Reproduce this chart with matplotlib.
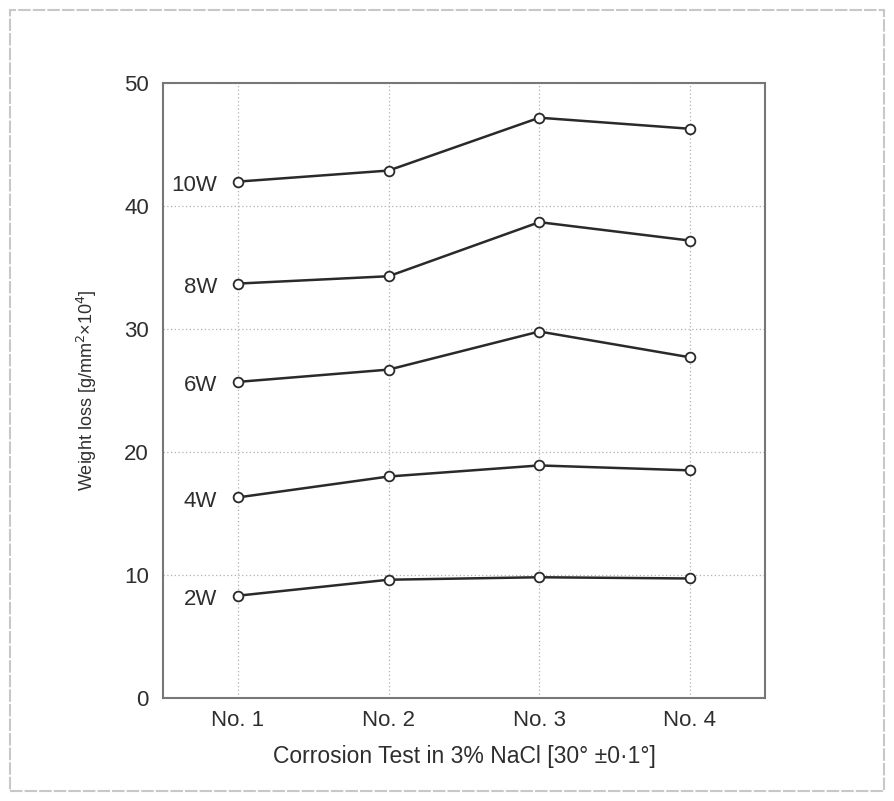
import matplotlib
matplotlib.use("Agg")
import matplotlib.pyplot as plt
from matplotlib.patches import Rectangle

plt.rcParams['font.family'] = ['Liberation Sans', 'DejaVu Sans']

# Data
tests = ["No. 1", "No. 2", "No. 3", "No. 4"]
series_names = ["10W", "8W", "6W", "4W", "2W"]
w10 = [42.0, 42.9, 47.2, 46.3]
w8 = [33.7, 34.3, 38.7, 37.2]
w6 = [25.7, 26.7, 29.8, 27.7]
w4 = [16.3, 18.0, 18.9, 18.5]
w2 = [8.3, 9.6, 9.8, 9.7]
series = [w10, w8, w6, w4, w2]

x = [1, 2, 3, 4]

fig = plt.figure(figsize=(8.94, 8.01), dpi=100)
ax = fig.add_axes([0.182, 0.129, 0.674, 0.767])

# Light frame round the whole picture
fig.patches.append(Rectangle((0.011, 0.012), 0.978, 0.976, transform=fig.transFigure,
                             fill=False, edgecolor="#c8c8c8", linewidth=1.5, linestyle=(0, (6, 1))))

for name, vals in zip(series_names, series):
    ax.plot(x, vals, color="#2a2a2a", linewidth=1.8, marker="o", markersize=7,
            markerfacecolor="white", markeredgecolor="#2a2a2a", markeredgewidth=1.3, zorder=3)
    ax.text(0.86, vals[0] - 0.3, name, ha="right", va="center", fontsize=16, color="#2e2e2e")

ax.set_xlim(0.5, 4.5)
ax.set_ylim(0, 50)
ax.set_xticks(x)
ax.set_xticklabels(tests)
ax.set_yticks([0, 10, 20, 30, 40, 50])
ax.tick_params(axis="both", labelsize=16, colors="#2e2e2e", length=0)
ax.tick_params(axis="x", pad=9)
ax.tick_params(axis="y", pad=10)
ax.grid(True, linestyle=(0, (1, 2)), color="#b0b0b0", linewidth=0.9)

for s in ax.spines.values():
    s.set_color("#777777")
    s.set_linewidth(1.5)

ax.set_xlabel("Corrosion Test in 3% NaCl [30° ±0·1°]", fontsize=16.5, color="#2e2e2e", labelpad=10)
ax.set_ylabel("Weight loss [g/mm$^{2}$×10$^{4}$]", fontsize=13, color="#2e2e2e", labelpad=18)

plt.savefig("out.png", dpi=100, facecolor="white")
